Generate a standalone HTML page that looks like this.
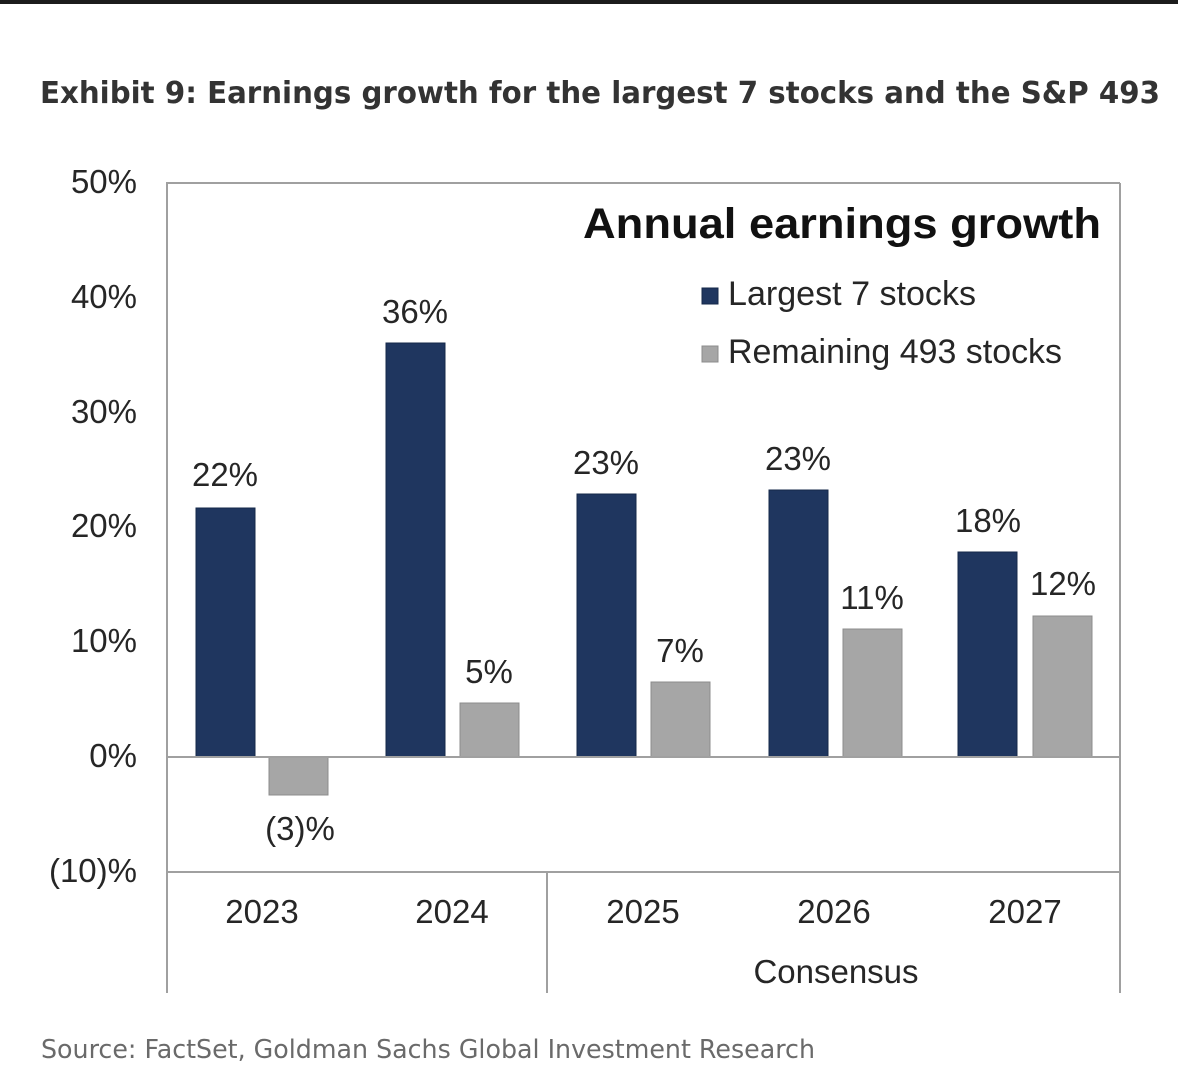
<!DOCTYPE html>
<html>
<head>
<meta charset="utf-8">
<style>
  html, body { margin: 0; padding: 0; background: #ffffff; }
  body { width: 1178px; height: 1090px; overflow: hidden; }
  svg { display: block; }
  text { font-family: "Liberation Sans", Arial, sans-serif; }
  .hum { font-family: "DejaVu Sans", "Liberation Sans", sans-serif; }
</style>
</head>
<body>
<svg width="1178" height="1090" viewBox="0 0 1178 1090" xmlns="http://www.w3.org/2000/svg">
  <rect x="0" y="0" width="1178" height="1090" fill="#ffffff"/>
  <rect x="0" y="0" width="1178" height="4" fill="#1c1c1c"/>

  <!-- Exhibit title -->
  <text class="hum" x="40" y="103" font-size="30" font-weight="bold" fill="#333333" textLength="1120" lengthAdjust="spacingAndGlyphs">Exhibit 9: Earnings growth for the largest 7 stocks and the S&amp;P 493</text>

  <!-- Y axis labels -->
  <g font-size="33" fill="#262626" text-anchor="end">
    <text x="137" y="193">50%</text>
    <text x="137" y="308">40%</text>
    <text x="137" y="423">30%</text>
    <text x="137" y="537">20%</text>
    <text x="137" y="652">10%</text>
    <text x="137" y="767">0%</text>
    <text x="137" y="882">(10)%</text>
  </g>

  <!-- Bars -->
  <g stroke-width="1">
    <rect x="196" y="508" width="59" height="249" fill="#1f365f" stroke="#16284a"/>
    <rect x="269" y="757" width="59" height="38" fill="#a6a6a6" stroke="#8c8c8c"/>

    <rect x="386" y="343" width="59" height="414" fill="#1f365f" stroke="#16284a"/>
    <rect x="460" y="703" width="59" height="54" fill="#a6a6a6" stroke="#8c8c8c"/>

    <rect x="577" y="494" width="59" height="263" fill="#1f365f" stroke="#16284a"/>
    <rect x="651" y="682" width="59" height="75" fill="#a6a6a6" stroke="#8c8c8c"/>

    <rect x="769" y="490" width="59" height="267" fill="#1f365f" stroke="#16284a"/>
    <rect x="843" y="629" width="59" height="128" fill="#a6a6a6" stroke="#8c8c8c"/>

    <rect x="958" y="552" width="59" height="205" fill="#1f365f" stroke="#16284a"/>
    <rect x="1033" y="616" width="59" height="141" fill="#a6a6a6" stroke="#8c8c8c"/>
  </g>

  <!-- Frame / axes lines -->
  <g stroke="#a0a0a0" stroke-width="2" fill="none">
    <line x1="166" y1="183" x2="1120" y2="183"/>
    <line x1="167" y1="183" x2="167" y2="993"/>
    <line x1="1120" y1="183" x2="1120" y2="993"/>
    <line x1="166" y1="757" x2="1120" y2="757"/>
    <line x1="166" y1="872" x2="1120" y2="872"/>
    <line x1="547" y1="872" x2="547" y2="993"/>
  </g>

  <!-- Data labels -->
  <g font-size="33" fill="#262626" text-anchor="middle">
    <text x="225" y="486">22%</text>
    <text x="300" y="840">(3)%</text>
    <text x="415" y="323">36%</text>
    <text x="489" y="683">5%</text>
    <text x="606" y="474">23%</text>
    <text x="680" y="662">7%</text>
    <text x="798" y="470">23%</text>
    <text x="872" y="609">11%</text>
    <text x="988" y="532">18%</text>
    <text x="1063" y="595">12%</text>
  </g>

  <!-- Category labels -->
  <g font-size="33" fill="#262626" text-anchor="middle">
    <text x="262" y="923">2023</text>
    <text x="452" y="923">2024</text>
    <text x="643" y="923">2025</text>
    <text x="834" y="923">2026</text>
    <text x="1025" y="923">2027</text>
    <text x="836" y="983">Consensus</text>
  </g>

  <!-- Chart title and legend -->
  <text x="583" y="238" font-size="43" font-weight="bold" fill="#111111" textLength="518" lengthAdjust="spacingAndGlyphs">Annual earnings growth</text>
  <rect x="702" y="288" width="16" height="16" fill="#1f365f" stroke="#16284a" stroke-width="1"/>
  <text x="728" y="305" font-size="34" fill="#262626" textLength="248" lengthAdjust="spacingAndGlyphs">Largest 7 stocks</text>
  <rect x="702" y="346" width="16" height="16" fill="#a6a6a6" stroke="#8c8c8c" stroke-width="1"/>
  <text x="728" y="363" font-size="34" fill="#262626" textLength="334" lengthAdjust="spacingAndGlyphs">Remaining 493 stocks</text>

  <!-- Source -->
  <text class="hum" x="41" y="1058" font-size="26" fill="#6a6a6a" textLength="774" lengthAdjust="spacingAndGlyphs">Source: FactSet, Goldman Sachs Global Investment Research</text>
</svg>
</body>
</html>
